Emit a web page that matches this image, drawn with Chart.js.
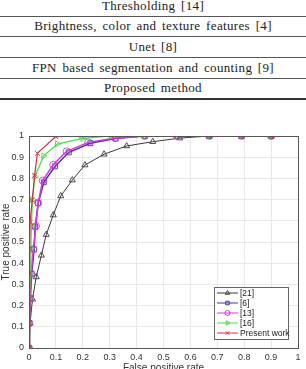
<!DOCTYPE html>
<html>
<head>
<meta charset="utf-8">
<script src="https://cdn.jsdelivr.net/npm/chart.js@4/dist/chart.umd.min.js"></script>
<style>
  html, body { margin: 0; padding: 0; background: #fff; overflow: hidden; width: 306px; height: 369px; }
  #table { position: absolute; left: 0; top: 0; width: 306px; }
  .row {
    position: absolute; left: 0; width: 306px; height: 20px; line-height: 20px;
    text-align: center; font-family: "Liberation Serif", "DejaVu Serif", serif;
    font-size: 13px; color: #222; letter-spacing: 0.35px; word-spacing: 2px;
    border-bottom: 1.3px solid #555;
  }
  .row.last { border-bottom: 2.2px solid #333; }
  #wrap { position: absolute; left: 0; top: 110px; width: 306px; height: 270px; }
</style>
</head>
<body>
<div id="table">
  <div class="row" style="top:-4.5px">Thresholding [14]</div>
  <div class="row" style="top:16.2px">Brightness, color and texture features [4]</div>
  <div class="row" style="top:36.8px">Unet [8]</div>
  <div class="row" style="top:57.5px">FPN based segmentation and counting [9]</div>
  <div class="row last" style="top:78.2px">Proposed method</div>
</div>
<div id="wrap"><canvas id="chart"></canvas></div>
<script>
// ROC curves
const tickStep = 0.1;

const fpr21 = [0, 0.004, 0.013, 0.027, 0.046, 0.064, 0.09, 0.118, 0.161, 0.208, 0.279, 0.363, 0.46, 0.56, 0.67, 0.79, 0.9];
const tpr21 = [0, 0.117, 0.23, 0.335, 0.437, 0.535, 0.627, 0.717, 0.792, 0.863, 0.914, 0.953, 0.973, 0.99, 1.0, 1.0, 1.0];

const fpr6 = [0, 0.002, 0.005, 0.01, 0.019, 0.023, 0.034, 0.055, 0.097, 0.148, 0.228, 0.322, 0.43, 0.55, 0.67, 0.79, 0.9];
const tpr6 = [0, 0.117, 0.235, 0.35, 0.465, 0.572, 0.683, 0.782, 0.857, 0.923, 0.966, 0.988, 1.0, 1.0, 1.0, 1.0, 1.0];

const fpr13 = [0, 0.001, 0.004, 0.008, 0.016, 0.026, 0.034, 0.051, 0.09, 0.14, 0.22, 0.32, 0.43, 0.55, 0.67, 0.79, 0.9];
const tpr13 = [0, 0.117, 0.235, 0.35, 0.466, 0.575, 0.685, 0.79, 0.864, 0.928, 0.97, 0.99, 1.0, 1.0, 1.0, 1.0, 1.0];

const fpr16 = [0, 0.001, 0.003, 0.005, 0.007, 0.009, 0.013, 0.022, 0.054, 0.105, 0.2, 0.306, 0.43, 0.55, 0.67, 0.79, 0.9];
const tpr16 = [0, 0.117, 0.235, 0.35, 0.47, 0.58, 0.7, 0.808, 0.906, 0.962, 0.989, 1.0, 1.0, 1.0, 1.0, 1.0, 1.0];

const fprOurs = [0, 0.001, 0.002, 0.003, 0.003, 0.004, 0.012, 0.021, 0.031, 0.099, 0.195, 0.306, 0.43, 0.55, 0.67, 0.79, 0.9];
const tprOurs = [0, 0.12, 0.235, 0.353, 0.47, 0.593, 0.698, 0.814, 0.918, 0.997, 1.0, 1.0, 1.0, 1.0, 1.0, 1.0, 1.0];

function toPoints(xs, ys) {
  return xs.map((x, i) => ({ x: x, y: ys[i] }));
}

function series(label, xs, ys, color, style, rotation, order, width) {
  return {
    label: label,
    data: toPoints(xs, ys),
    borderColor: color,
    backgroundColor: "rgba(255,255,255,0)",
    pointBorderColor: color,
    pointBackgroundColor: "rgba(255,255,255,0)",
    pointStyle: style,
    pointRotation: rotation,
    pointRadius: 3.5,
    pointBorderWidth: 0.9,
    borderWidth: width,
    tension: 0,
    order: order,
  };
}

const datasets = [
  series("[21]", fpr21, tpr21, "#3a3a3a", "triangle", 0, 5, 1),
  series("[6]", fpr6, tpr6, "#4236a8", "rect", 0, 4, 1.5),
  series("[13]", fpr13, tpr13, "#d63ad6", "circle", 0, 3, 1.5),
  series("[16]", fpr16, tpr16, "#4ed84e", "triangle", 90, 2, 1.2),
  series("Present work", fprOurs, tprOurs, "#cc3344", "crossRot", 0, 1, 1.2),
];

// box around the axes plus a matlab style legend in the lower right
const boxLegend = {
  id: "boxLegend",
  afterDraw(chart) {
    const c = chart.ctx;
    const a = chart.chartArea;
    c.save();
    c.strokeStyle = "#555";
    c.lineWidth = 1;
    c.strokeRect(a.left + 0.5, a.top + 0.5, a.right - a.left, a.bottom - a.top);

    const w = 74, h = 52;
    const bx = a.right - 10 - w, by = a.bottom - 9 - h;
    c.fillStyle = "#fff";
    c.fillRect(bx, by, w, h);
    c.strokeStyle = "#666";
    c.strokeRect(bx + 0.5, by + 0.5, w, h);
    c.font = "8.5px 'Liberation Sans', Arial, sans-serif";
    c.textBaseline = "middle";
    chart.data.datasets.forEach((ds, i) => {
      const y = by + 6 + i * 10;
      c.strokeStyle = ds.borderColor;
      c.lineWidth = 1;
      c.beginPath();
      c.moveTo(bx + 3, y);
      c.lineTo(bx + 24, y);
      c.stroke();
      c.fillStyle = "rgba(255,255,255,0)";
      Chart.helpers.drawPoint(c, {
        pointStyle: ds.pointStyle,
        rotation: ds.pointRotation,
        radius: 2.5,
        borderWidth: 1,
      }, bx + 13.5, y);
      c.fillStyle = "#222";
      c.fillText(ds.label, bx + 26, y + 0.5);
    });
    c.restore();
  },
};

const tickFont = { family: "'Liberation Sans', Arial, sans-serif", size: 9 };
const fmt = (v) => String(Math.round(v * 10) / 10);

new Chart(document.getElementById("chart"), {
  type: "line",
  data: { datasets: datasets },
  plugins: [boxLegend],
  options: {
    responsive: true,
    maintainAspectRatio: false,
    animation: false,
    layout: { padding: { top: 26, right: 8, left: 0, bottom: 6 } },
    plugins: { legend: { display: false }, tooltip: { enabled: false } },
    scales: {
      x: {
        type: "linear",
        min: 0,
        max: 1,
        afterFit(scale) { scale.height = 26; },
        grid: { color: "#e8e8e8", drawTicks: false },
        border: { color: "#555" },
        ticks: {
          stepSize: tickStep,
          font: tickFont,
          color: "#333",
          padding: 4,
          maxRotation: 0,
          autoSkip: false,
          callback: fmt,
        },
        title: {
          display: true,
          text: "False positive rate",
          font: { family: "'Liberation Sans', Arial, sans-serif", size: 10 },
          color: "#333",
          padding: { top: 2, bottom: 0 },
        },
      },
      y: {
        type: "linear",
        min: 0,
        max: 1,
        afterFit(scale) { scale.width = 29; },
        grid: { color: "#e8e8e8", drawTicks: false },
        border: { color: "#555" },
        ticks: {
          stepSize: tickStep,
          font: tickFont,
          color: "#333",
          padding: 5,
          autoSkip: false,
          callback: fmt,
        },
        title: {
          display: true,
          text: "True positive rate",
          font: { family: "'Liberation Sans', Arial, sans-serif", size: 10 },
          color: "#333",
          padding: { top: 0, bottom: 0 },
        },
      },
    },
  },
});
</script>
</body>
</html>
